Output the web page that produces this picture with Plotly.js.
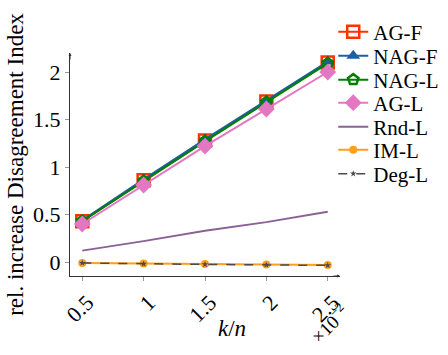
<!DOCTYPE html>
<html>
<head>
<meta charset="utf-8">
<script src="https://cdn.plot.ly/plotly-3.0.1.min.js"></script>
<style>body{margin:0;background:#fff}#plot{width:448px;height:355px}</style>
</head>
<body>
<div id="plot"></div>
<script>
// values
var kn = [0.5, 1, 1.5, 2, 2.5];
var agF = [0.43, 0.86, 1.28, 1.69, 2.10];
var nagF = [0.44, 0.87, 1.29, 1.70, 2.11];
var nagL = [0.43, 0.85, 1.27, 1.68, 2.09];
var agL = [0.40, 0.81, 1.22, 1.61, 2.00];
var rndL = [0.12, 0.22, 0.33, 0.42, 0.53];
var imL = [-0.01, -0.015, -0.02, -0.025, -0.03];
var degL = [-0.01, -0.02, -0.025, -0.03, -0.035];
var tickVals = [0.5, 1, 1.5, 2, 2.5];
var tickText = ['0.5', '1', '1.5', '2', '2.5'];

var FONT = 'Liberation Serif, DejaVu Serif, serif';

var data = [
  {x: kn, y: agF, name: 'AG-F', mode: 'lines+markers', legend: 'legend',
   line: {color: '#ff3300', width: 2},
   marker: {symbol: 'square-open', size: 12, color: '#ff3300', line: {width: 2.5}}},
  {x: kn, y: nagF, name: 'NAG-F', mode: 'lines+markers', legend: 'legend2',
   line: {color: '#1f5f9f', width: 2},
   marker: {symbol: 'triangle-up', size: 12, color: '#1f5f9f'}},
  {x: kn, y: nagL, name: 'NAG-L', mode: 'lines+markers', legend: 'legend3',
   line: {color: '#007f00', width: 2},
   marker: {symbol: 'pentagon-open', size: 11, color: '#007f00', line: {width: 2.5}}},
  {x: kn, y: agL, name: 'AG-L', mode: 'lines+markers', legend: 'legend4',
   line: {color: '#e377c2', width: 2},
   marker: {symbol: 'diamond', size: 13, color: '#e377c2'}},
  {x: kn, y: rndL, name: 'Rnd-L', mode: 'lines', legend: 'legend5',
   line: {color: '#8c6097', width: 2}},
  {x: kn, y: imL, name: 'IM-L', mode: 'lines+markers', legend: 'legend6',
   line: {color: '#ff9f1a', width: 2},
   marker: {symbol: 'circle', size: 8, color: '#ff9f1a'}},
  {x: kn, y: degL, name: 'Deg-L', mode: 'lines+markers', legend: 'legend7',
   line: {color: '#4a4a4a', width: 1.5, dash: 'dash'},
   marker: {symbol: 'star', size: 5, color: '#4a4a4a'}}
];

var layout = {
  width: 448, height: 355,
  margin: {l: 70, r: 108, t: 53, b: 79, autoexpand: false},
  paper_bgcolor: '#fff', plot_bgcolor: '#fff',
  font: {family: FONT, size: 22, color: '#000'},
  showlegend: true,
  xaxis: {
    range: [0.4, 2.6], showgrid: false, zeroline: false,
    showline: true, linecolor: '#333', linewidth: 1,
    ticks: 'outside', ticklen: 4, tickcolor: '#999',
    tickvals: tickVals, ticktext: tickText, tickangle: -45,
    ticklabelshift: 5,
    tickfont: {family: FONT, size: 22}
  },
  yaxis: {
    range: [-0.147, 2.2], showgrid: false, zeroline: false,
    showline: true, linecolor: '#333', linewidth: 1,
    ticks: 'outside', ticklen: 4, tickcolor: '#999',
    tickvals: [0, 0.5, 1, 1.5, 2],
    tickfont: {family: FONT, size: 22},
    title: {text: 'rel. increase Disagreement Index', font: {family: FONT, size: 23}, standoff: 3}
  },
  annotations: [
    {xref: 'paper', yref: 'paper', x: 0.6, y: -0.3, text: '<i>k</i>/<i>n</i>',
     showarrow: false, font: {family: FONT, size: 23}},
    {xref: 'paper', yref: 'paper', x: 1.06, y: -0.33, text: '×10<sup>−2</sup>',
     showarrow: false, textangle: -45, font: {family: FONT, size: 19}},
    // axis arrows
    {xref: 'paper', yref: 'paper', x: 0, y: 1.0, ax: 0, ay: 8,
     showarrow: true, arrowhead: 2, arrowsize: 0.6, arrowwidth: 1, arrowcolor: '#333', text: ''},
    {xref: 'paper', yref: 'paper', x: 1.0, y: 0, ax: -8, ay: 0,
     showarrow: true, arrowhead: 2, arrowsize: 0.6, arrowwidth: 1, arrowcolor: '#333', text: ''}
  ]
};

// one legend box per entry so the row spacing can match the original
var legendRows = [32, 56, 80, 103, 127, 150, 174];
legendRows.forEach(function (py, i) {
  var key = i === 0 ? 'legend' : 'legend' + (i + 1);
  layout[key] = {
    x: 0.975, y: (276 - py) / 223, xanchor: 'left', yanchor: 'middle',
    font: {family: FONT, size: 21}, itemwidth: 30,
    bgcolor: 'rgba(0,0,0,0)', borderwidth: 0
  };
});

Plotly.newPlot('plot', data, layout, {displayModeBar: false, staticPlot: true});
</script>
</body>
</html>
